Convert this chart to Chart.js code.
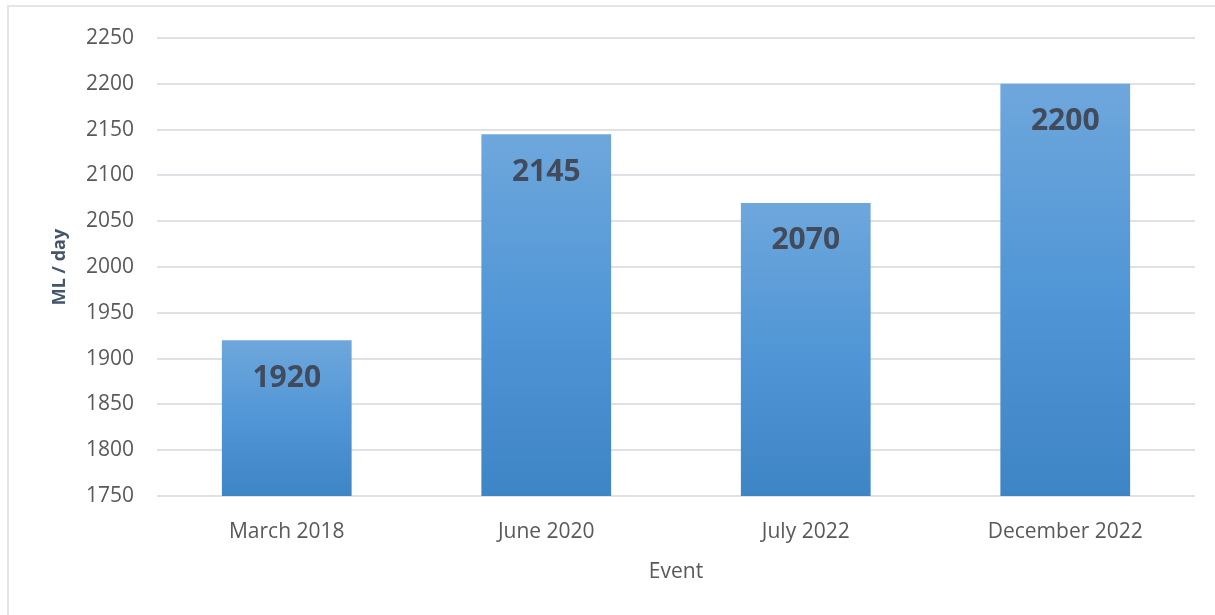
<!DOCTYPE html>
<html>
<head>
<meta charset="utf-8">
<script src="https://cdn.jsdelivr.net/npm/chart.js@4/dist/chart.umd.min.js"></script>
<style>
  html, body { margin: 0; padding: 0; background: #ffffff; }
  #wrap { position: relative; width: 1215px; height: 615px; overflow: hidden; }
  #frame { position: absolute; left: 7px; top: 5px; width: 1300px; height: 700px;
           border-top: 2px solid #e4e4ea; border-left: 2px solid #e4e4ea; }
  canvas { position: absolute; left: 0; top: 0; }
</style>
</head>
<body>
<div id="wrap">
  <div id="frame"></div>
  <canvas id="chart" width="1215" height="615"></canvas>
</div>
<script>
// Supply volume per event, ML / day
const events = ['March 2018', 'June 2020', 'July 2022', 'December 2022'];
const volumes = [1920, 2145, 2070, 2200];
const yMin = 1750;
const yMax = 2250;
const yStep = 50;

const FONT = '"Open Sans", "Noto Sans", sans-serif';

// Vertical gradient per bar, lighter at the top and deeper blue at the base
function barFill(ctx) {
  const chart = ctx.chart;
  const y = chart.scales && chart.scales.y;
  if (!y || ctx.dataIndex === undefined) return '#5497d5';
  const top = y.getPixelForValue(ctx.raw);
  const bottom = y.getPixelForValue(yMin);
  if (!isFinite(top) || !isFinite(bottom) || top === bottom) return '#5497d5';
  const g = chart.ctx.createLinearGradient(0, top, 0, bottom);
  g.addColorStop(0, '#6ea7dc');
  g.addColorStop(0.5, '#5196d6');
  g.addColorStop(1, '#3e85c6');
  return g;
}

// Value written inside each bar just below its top
const valueLabels = {
  id: 'valueLabels',
  afterDatasetsDraw(chart) {
    const c = chart.ctx;
    const meta = chart.getDatasetMeta(0);
    c.save();
    c.font = 'bold 30px ' + FONT;
    c.fillStyle = '#414b5b';
    c.textAlign = 'center';
    c.textBaseline = 'middle';
    meta.data.forEach((bar, i) => {
      c.fillText(String(volumes[i]), bar.x, bar.y + 38);
    });
    c.restore();
  }
};

new Chart(document.getElementById('chart'), {
  type: 'bar',
  data: {
    labels: events,
    datasets: [{
      data: volumes,
      backgroundColor: barFill,
      borderWidth: 0,
      categoryPercentage: 1.0,
      barPercentage: 0.5
    }]
  },
  options: {
    responsive: false,
    animation: false,
    devicePixelRatio: 1,
    layout: { padding: { top: 38, right: 20, bottom: 0, left: 0 } },
    plugins: {
      legend: { display: false },
      tooltip: { enabled: false }
    },
    scales: {
      y: {
        min: yMin,
        max: yMax,
        ticks: {
          stepSize: yStep,
          color: '#595959',
          padding: 23,
          font: { family: FONT, size: 21 },
          callback: (v) => String(v)
        },
        grid: { color: '#e0e0e6', lineWidth: 2, drawTicks: false },
        border: { display: false },
        title: {
          display: true,
          text: 'ML / day',
          color: '#44546a',
          font: { family: FONT, size: 18, weight: 'bold' },
          padding: { top: 49, bottom: 49 }
        },
        afterFit(scale) { scale.width = 157; }
      },
      x: {
        ticks: {
          color: '#595959',
          padding: 23,
          font: { family: FONT, size: 21 }
        },
        grid: { display: false, drawTicks: false },
        border: { display: false },
        title: {
          display: true,
          text: 'Event',
          color: '#595959',
          font: { family: FONT, size: 21 },
          padding: { top: 30, bottom: 30 }
        },
        afterFit(scale) { scale.height = 119; }
      }
    }
  },
  plugins: [valueLabels]
});
</script>
</body>
</html>
